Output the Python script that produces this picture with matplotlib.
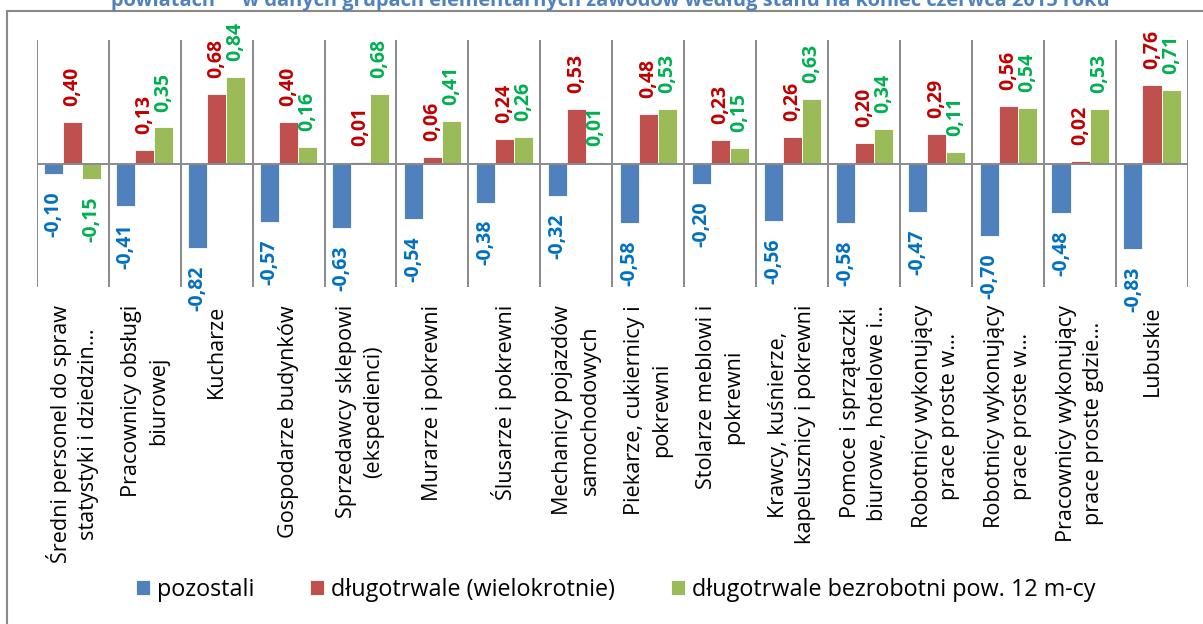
import numpy as np
import matplotlib
matplotlib.use("Agg")
import matplotlib.pyplot as plt
from matplotlib.patches import Rectangle

plt.rcParams['font.family'] = ['Open Sans', 'DejaVu Sans']

categories = [
    "Średni personel do spraw\nstatystyki i dziedzin…",
    "Pracownicy obsługi\nbiurowej",
    "Kucharze",
    "Gospodarze budynków",
    "Sprzedawcy sklepowi\n(ekspedienci)",
    "Murarze i pokrewni",
    "Ślusarze i pokrewni",
    "Mechanicy pojazdów\nsamochodowych",
    "Piekarze, cukiernicy i\npokrewni",
    "Stolarze meblowi i\npokrewni",
    "Krawcy, kuśnierze,\nkapelusznicy i pokrewni",
    "Pomoce i sprzątaczki\nbiurowe, hotelowe i…",
    "Robotnicy wykonujący\nprace proste w…",
    "Robotnicy wykonujący\nprace proste w…",
    "Pracownicy wykonujący\nprace proste gdzie…",
    "Lubuskie",
]
pozostali = [-0.10, -0.41, -0.82, -0.57, -0.63, -0.54, -0.38, -0.32,
             -0.58, -0.20, -0.56, -0.58, -0.47, -0.70, -0.48, -0.83]
wielokrotnie = [0.40, 0.13, 0.68, 0.40, 0.01, 0.06, 0.24, 0.53,
                0.48, 0.23, 0.26, 0.20, 0.29, 0.56, 0.02, 0.76]
pow12 = [-0.15, 0.35, 0.84, 0.16, 0.68, 0.41, 0.26, 0.01,
         0.53, 0.15, 0.63, 0.34, 0.11, 0.54, 0.53, 0.71]

series_names = ["pozostali", "długotrwale (wielokrotnie)",
                "długotrwale bezrobotni pow. 12 m-cy"]
bar_colors = ["#4F81BD", "#C0504D", "#9BBB59"]
label_colors = ["#0070C0", "#C00000", "#00B050"]
title = "powiatach** w danych grupach elementarnych zawodów według stanu na koniec czerwca 2015 roku"
gray = "#898989"

W, H = 1203, 624
fig = plt.figure(figsize=(W / 100, H / 100), dpi=100)
ax = fig.add_axes([36.7 / W, 1 - 287 / H, (1188 - 36.7) / W, (287 - 40) / H])

x = np.arange(len(categories))
bw = 0.265
for i, (vals, col, lcol, name) in enumerate(zip([pozostali, wielokrotnie, pow12],
                                               bar_colors, label_colors, series_names)):
    xs = x + (i - 1) * bw
    ax.bar(xs, vals, bw, color=col, edgecolor="white", linewidth=0.6, label=name, zorder=2)
    for xx, v in zip(xs, vals):
        txt = ("%.2f" % v).replace(".", ",")
        if v >= 0:
            ax.annotate(txt, (xx, v), xytext=(0, 11.5), textcoords="offset points",
                        rotation=90, ha="center", va="bottom", color=lcol,
                        fontsize=14, fontweight="bold", annotation_clip=False)
        else:
            ax.annotate(txt, (xx, v), xytext=(0, -12.5), textcoords="offset points",
                        rotation=90, ha="center", va="top", color=lcol,
                        fontsize=14, fontweight="bold", annotation_clip=False)

ax.set_xlim(-0.5, len(categories) - 0.5)
ax.set_ylim(-1.2, 1.2)
ax.vlines(np.arange(len(categories) + 1) - 0.5, -1.2, 1.2, color=gray, lw=1.4, zorder=1)
ax.axhline(0, color=gray, lw=1.4, zorder=3)
for s in ax.spines.values():
    s.set_visible(False)
ax.set_yticks([])
ax.set_xticks(x)
ax.set_xticklabels(categories, rotation=90, fontsize=15.6, linespacing=1.38,
                   multialignment="center")
ax.tick_params(axis="x", length=0, pad=13)

fig.legend(loc="center", bbox_to_anchor=(0.512, 1 - 590 / H), ncol=3, frameon=False,
           fontsize=16.8, handlelength=0.6, handleheight=0.6, handletextpad=0.3,
           columnspacing=2.4)

fig.patches.append(Rectangle((7 / W, -0.1), 2, 1.1 - 11 / H, transform=fig.transFigure,
                             fill=False, edgecolor=gray, lw=1.5, clip_on=False))
fig.text(0.507, 1 - 6 / H, title, ha="center", va="baseline", color="#4F81BD",
         fontsize=14.4, fontweight="bold")

fig.savefig("out.png", dpi=100)
